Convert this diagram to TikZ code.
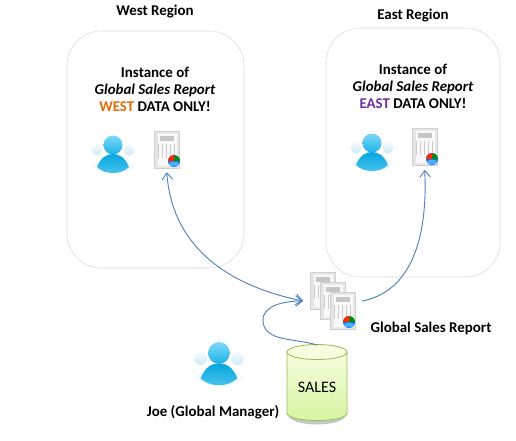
\documentclass[tikz,border=0pt]{standalone}
\usepackage{fontspec}
\setmainfont{Carlito}
\usetikzlibrary{arrows.meta}

\definecolor{linkblue}{HTML}{4F81BD}
\definecolor{boxgray}{HTML}{D9D9D9}
\definecolor{sheetgray}{HTML}{CFCFCF}
\definecolor{westorange}{HTML}{E36C0A}
\definecolor{eastpurple}{HTML}{7030A0}
\definecolor{dbgreen}{HTML}{9BBB59}
\definecolor{headlight}{HTML}{7DD8F8}
\definecolor{headdark}{HTML}{1FB2E8}
\definecolor{bodydark}{HTML}{07A6DF}
\definecolor{bodylight}{HTML}{4CC4EE}
\definecolor{sidelight}{HTML}{F2FAFD}
\definecolor{sidedark}{HTML}{CFEBF8}
\definecolor{dbtop}{HTML}{F6FCDD}
\definecolor{dbbottom}{HTML}{D6F5A0}

\tikzset{
	regionbox/.style={draw=boxgray, rounded corners=26pt, inner sep=0pt},
	label/.style={font=\fontsize{11.2}{12.75}\selectfont\bfseries, inner sep=0pt, align=center},
	link/.style={draw=linkblue, line width=0.7pt, -{Straight Barb[length=5pt,width=8pt]}},
	person/.pic={
		\fill[sidelight] (-22,21) .. controls (-12,11) and (12,11) .. (22,21) .. controls (12,31) and (-12,31) .. cycle;
		\shade[top color=sidelight, bottom color=sidedark] (-16,5) circle (5.5);
		\shade[top color=sidelight, bottom color=sidedark] (16,5) circle (5.5);
		\shade[top color=headlight, bottom color=headdark] (0,0) circle (9.5);
		\shade[top color=bodydark, bottom color=bodylight]
		(-16,22) .. controls (-12,12) and (-6,9) .. (0,9) .. controls (6,9) and (12,12) .. (16,22)
		.. controls (8,30) and (-8,30) .. cycle;
	},
	sheet/.pic={
		\node[draw=sheetgray, fill=gray!18, minimum width=18.75pt, minimum height=27.75pt, inner sep=0pt] (-box) at (0,0) {};
		\fill[gray!5] (-10,-16) rectangle (10,16);
		\fill[gray!45] (-7,-14) rectangle (7,-9);
		\draw[gray!40, line width=0.3pt, step=4] (-8,-6) grid (8,8);
		\fill[gray!20] (-12,-16) rectangle (-9,16);
	},
	pie/.pic={
		\fill[blue!55!cyan] (0,0) circle (6);
		\fill[red!70!orange] (0,0) -- (-6,0) arc (180:280:6) -- cycle;
		\fill[green!55!black] (0,0) -- (1,-5.9) arc (280:360:6) -- cycle;
		\fill[cyan!50!white, opacity=0.6] (0,3) ellipse (5 and 2.5);
	},
}

\begin{document}
\begin{tikzpicture}[x=0.75pt, y=-0.75pt]
	\useasboundingbox (0,0) rectangle (516,440);
	
	% 1. Two regions
	\node[regionbox, minimum width=132.75pt, minimum height=177.75pt] (west) at (155.5,149.5) {};
	\node[regionbox, minimum width=130.5pt, minimum height=186.75pt] (east) at (413,152.5) {};
	\node[label] (westtitle) at (155,12) {West Region};
	\node[label] (easttitle) at (413,16) {East Region};
	
	% 2. Texts inside the regions
	\node[label] (westtext) at (155,89) {Instance of\\ \textit{Global Sales Report}\\ \textcolor{westorange}{WEST} DATA ONLY!};
	\node[label] (easttext) at (413,86) {Instance of\\ \textit{Global Sales Report}\\ \textcolor{eastpurple}{EAST} DATA ONLY!};
	
	% 3. People and their reports
	\pic at (113,145) {person};
	\pic (westreport) at (166.5,149.5) {sheet};
	\pic at (174,161) {pie};
	\pic at (372,143) {person};
	\pic (eastreport) at (424.5,147) {sheet};
	\pic at (432,159) {pie};
	
	% 4. Global report stack
	\pic (stackback) at (322.5,291) {sheet};
	\pic (stackmid) at (332.5,301) {sheet};
	\pic (stackfront) at (342.5,311) {sheet};
	\pic at (349,322) {pie};
	\node[label] (stacktitle) at (431,328) {Global Sales Report};
	\coordinate (stackin) at (303,301);
	\coordinate (stackout) at (362,301);
	
	% 5. Database cylinder
	\fill[gray!45] (288,414) .. controls (288,428) and (346,428) .. (346,414) -- cycle;
	\shade[top color=dbtop, bottom color=dbbottom, draw=dbgreen, line width=0.6pt]
	(287,352) -- (287,413) .. controls (287,423) and (347,423) .. (347,413) -- (347,352) -- cycle;
	\draw[dbgreen, line width=0.6pt, fill=dbtop] (317,352) ellipse (30 and 7.5);
	\node[inner sep=0pt, font=\fontsize{12}{14}\selectfont] (sales) at (317,387) {SALES};
	\coordinate (salestop) at (317,345);
	
	% 6. Joe
	\pic[scale=1.15] at (219,353) {person};
	\node[label] (joe) at (213,412) {Joe (Global Manager)};
	
	% 7. Curved links
	\draw[link, {Straight Barb[length=5pt,width=8pt]}-{Straight Barb[length=5pt,width=8pt]}, shorten <=3pt]
	(westreport-box.south) .. controls (172,245) and (225,285) .. (stackin);
	\draw[link] (salestop) .. controls (295,338) and (263,342) .. (263,320)
	.. controls (263,305) and (285,301) .. (stackin);
	\draw[link, shorten >=3pt] (stackout) .. controls (410,292) and (428,240) .. (eastreport-box.south);
	
\end{tikzpicture}
\end{document}
